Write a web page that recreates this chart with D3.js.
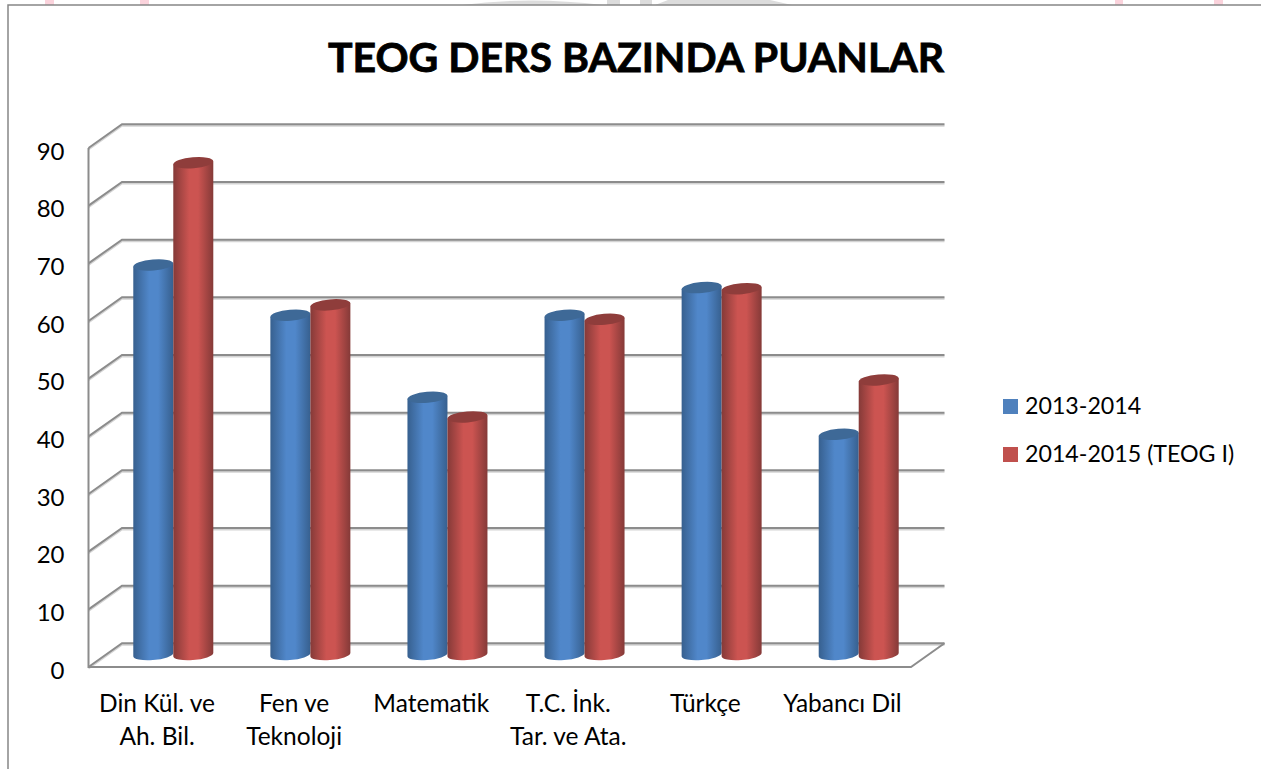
<!DOCTYPE html>
<html>
<head>
  <meta charset="utf-8">
  <title>TEOG ders bazinda puanlar</title>
  <script src="https://d3js.org/d3.v7.min.js"></script>
  <style>
  html, body { margin: 0; padding: 0; background: #fff; }
  svg { display: block; }
  text { font-family: Lato, "Open Sans", sans-serif; fill: #000; }
  .tick line, .domain { display: none; }
  </style>
</head>
<body>
<div id="container"></div>
<script>
const categories = [['Din Kül. ve', 'Ah. Bil.'], ['Fen ve', 'Teknoloji'], ['Matematik'], ['T.C. İnk.', 'Tar. ve Ata.'], ['Türkçe'], ['Yabancı Dil']]
const seriesNames = ['2013-2014', '2014-2015 (TEOG I)']
const values2014 = [67.5, 58.8, 44.6, 58.8, 63.6, 38.2]
const values2015 = [85.2, 60.6, 41.2, 58.1, 63.4, 47.6]
const yTicks = [0, 10, 20, 30, 40, 50, 60, 70, 80, 90]
const title = 'TEOG DERS BAZINDA PUANLAR'

const width = 1261
const height = 769
const depthX = 33.5
const depthY = -23.7
const barHalf = 40

const svg = d3.select('#container').append('svg')
  .attr('width', width)
  .attr('height', height)

const defs = svg.append('defs')
function cylinderGradient(id, edge, mid) {
  const g = defs.append('linearGradient').attr('id', id)
  g.append('stop').attr('offset', '0%').attr('stop-color', edge)
  g.append('stop').attr('offset', '40%').attr('stop-color', mid)
  g.append('stop').attr('offset', '62%').attr('stop-color', mid)
  g.append('stop').attr('offset', '100%').attr('stop-color', edge)
}
cylinderGradient('blueBar', '#37608f', '#5087ca')
cylinderGradient('redBar', '#853a38', '#cc5451')

// bits of the page behind the chart, above the frame
const behind = svg.append('g')
;[[45, 9], [140, 9], [1115, 8], [1214, 9]].forEach(function (p) {
  behind.append('rect').attr('x', p[0]).attr('y', 0).attr('width', p[1]).attr('height', 5).attr('fill', '#fbd3dc')
})
behind.append('path').attr('d', 'M462,5Q530,-4 603,5Z').attr('fill', '#dcdcdc')
behind.append('rect').attr('x', 607).attr('y', 0).attr('width', 13).attr('height', 5).attr('fill', '#dcdcdc')
behind.append('rect').attr('x', 640).attr('y', 0).attr('width', 12).attr('height', 5).attr('fill', '#dcdcdc')
behind.append('path').attr('d', 'M655,5L668,0H770L792,5Z').attr('fill', '#dcdcdc')

// page frame
svg.append('path')
  .attr('d', 'M8,769V5H1261')
  .attr('fill', 'none')
  .attr('stroke', '#868686')
  .attr('stroke-width', 1.5)

// scales for the front plane of the floor
const xScale = d3.scaleBand().domain(d3.range(categories.length)).range([88.5, 911])
const yScale = d3.scaleLinear().domain([0, 90]).range([667, 148])
// the bars stand half way into the depth
const yBar = d3.scaleLinear().domain([0, 90]).range([655, 135])
const xInner = d3.scaleBand().domain([0, 1]).range([-barHalf, barHalf]).paddingInner(0)

const grid = svg.append('g')
yTicks.forEach(function (t) {
  const y = yScale(t)
  const d = `M${xScale.range()[0]},${y}L${xScale.range()[0] + depthX},${y + depthY}H${xScale.range()[1] + depthX}`
  grid.append('path')
    .attr('d', d)
    .attr('fill', 'none')
    .attr('stroke', '#d4d4d4')
    .attr('stroke-width', 2)
    .attr('transform', 'translate(0,1.5)')
  grid.append('path')
    .attr('d', d)
    .attr('fill', 'none')
    .attr('stroke', '#8c8c8c')
    .attr('stroke-width', 2)
})
// left edge of the wall and front edge of the floor
grid.append('path')
  .attr('d', `M${xScale.range()[0]},${yScale(90)}V${yScale(0)}H${xScale.range()[1]}L${xScale.range()[1] + depthX},${yScale(0) + depthY}`)
  .attr('fill', 'none')
  .attr('stroke', '#8c8c8c')
  .attr('stroke-width', 2)

const yAxis = d3.axisLeft(yScale).tickValues(yTicks).tickSize(0).tickPadding(24)
svg.append('g')
  .attr('transform', `translate(${xScale.range()[0]},3.5)`)
  .call(yAxis)
  .selectAll('text')
  .style('font-size', '24px')

const xAxis = d3.axisBottom(xScale).tickSize(0).tickFormat('')
const xg = svg.append('g')
  .attr('transform', `translate(0,${yScale(0)})`)
  .call(xAxis)
xg.selectAll('.tick').each(function (d) {
  const label = d3.select(this).append('text')
    .attr('text-anchor', 'middle')
    .style('font-size', '24.5px')
  categories[d].forEach(function (line, i) {
    label.append('tspan').attr('x', 0).attr('y', 45 + i * 32.5).text(line)
  })
})

function drawCylinder(g, cx, value, fill, topColor) {
  const hw = xInner.bandwidth() / 2
  const top = yBar(value)
  const base = yBar(0)
  const ry = 5.5
  g.append('path')
    .attr('d', `M${cx - hw},${top + 1.5}V${base + 1}A${hw},${ry} -5 0 0 ${cx + hw},${base - 2}V${top - 1.5}Z`)
    .attr('fill', fill)
  g.append('ellipse')
    .attr('cx', cx).attr('cy', top)
    .attr('rx', hw).attr('ry', ry)
    .attr('transform', `rotate(-5 ${cx} ${top})`)
    .attr('fill', topColor)
}

const bars = svg.append('g')
categories.forEach(function (c, i) {
  const center = xScale(i) + xScale.bandwidth() / 2 + depthX / 2 - 0.5
  drawCylinder(bars, center + xInner(0) + xInner.bandwidth() / 2, values2014[i], 'url(#blueBar)', '#3e6997')
  drawCylinder(bars, center + xInner(1) + xInner.bandwidth() / 2, values2015[i], 'url(#redBar)', '#8f3d3b')
})

svg.append('text')
  .attr('x', 636)
  .attr('y', 71.5)
  .attr('text-anchor', 'middle')
  .attr('stroke', '#000')
  .attr('stroke-width', 0.8)
  .style('font-size', '41px')
  .style('font-weight', 700)
  .text(title)

const legend = svg.append('g')
seriesNames.forEach(function (name, i) {
  const y = 399 + i * 48
  legend.append('rect')
    .attr('x', 1003).attr('y', y)
    .attr('width', 15).attr('height', 15)
    .attr('fill', i === 0 ? '#4f81bd' : '#c0504d')
  legend.append('text')
    .attr('x', 1025).attr('y', y + 15)
    .style('font-size', '23.2px')
    .text(name)
})
</script>
</body>
</html>
